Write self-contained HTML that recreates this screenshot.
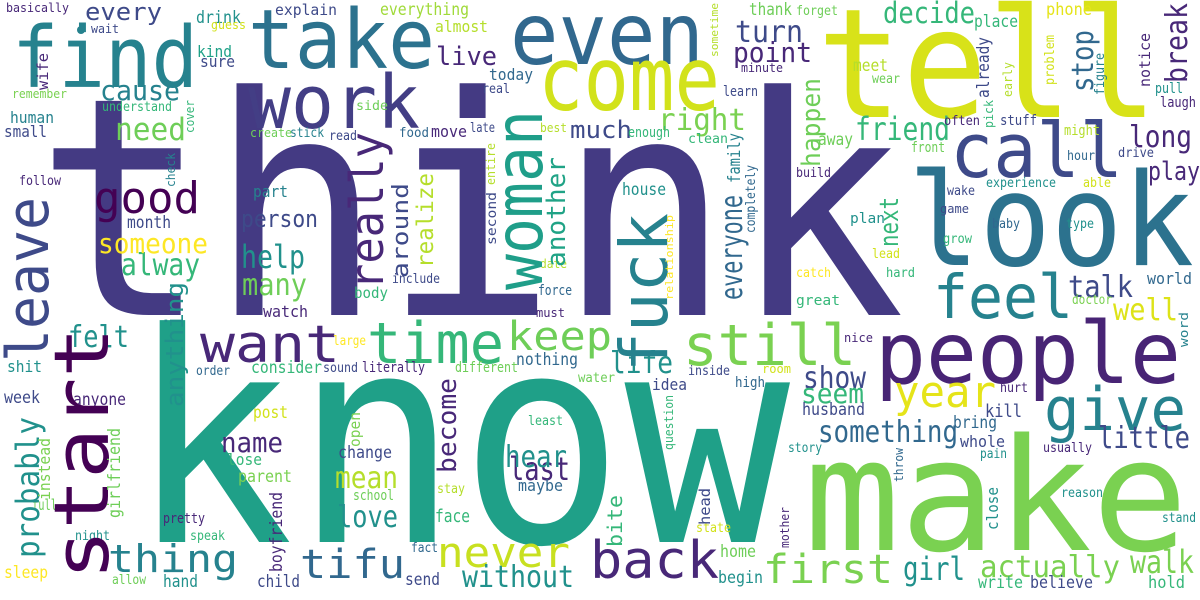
<!DOCTYPE html>
<html>
<head>
<meta charset="utf-8">
<style>
html,body{margin:0;padding:0;background:#fff;}
svg{display:block;}
text{font-family:"DejaVu Sans Mono","Liberation Mono",monospace;}
</style>
</head>
<body>
<svg id="cloud" width="1200" height="600" viewBox="0 0 1200 600" xmlns="http://www.w3.org/2000/svg">
<rect width="1200" height="600" fill="#ffffff"/>
<circle cx="81" cy="30" r="4" fill="#26828e"/>
</svg>
<script>
// horizontal words: text, x(left), baseline y, font size, colour, width
const hWords = [
["think",35,315,305,"#443a83",870],
["know",128,542,292,"#1fa088",662],
["make",804,550,156,"#7ad151",384],
["tell",817,117,152,"#d8e219",341],
["look",908,265,128,"#2c728e",286],
["people",875,383,86,"#482475",306],
["find",12,87,85,"#26828e",186],
["take",248,68,82,"#2c728e",187],
["even",510,64,86,"#31688e",194],
["come",538,110,88,"#d2e21b",182],
["work",248,128,74,"#433e85",172],
["call",950,177,76,"#3e4a89",173],
["feel",933,318,61,"#26828e",140],
["give",1044,430,60,"#26828e",142],
["still",683,365,57,"#7ad151",173],
["time",367,363,57,"#35b779",137],
["want",200,362,52,"#482878",140],
["back",590,578,52,"#482878",129],
["year",894,407,44,"#e5e419",102],
["good",94,213,44,"#440154",106],
["never",437,567,42,"#c8e020",133],
["first",763,583,40,"#7ad151",130],
["tifu",300,578,40,"#31688e",105],
["keep",507,350,40,"#6ece58",105],
["thing",108,572,38,"#26828e",130],
["friend",855,140,32,"#35b779",95],
["need",115,140,31,"#6ece58",71],
["girl",903,580,32,"#21918c",62],
["last",509,480,32,"#482878",61],
["walk",1130,573,32,"#7ad151",64],
["help",241,268,32,"#21918c",64],
["right",658,130,30,"#7ad151",88],
["turn",735,42,30,"#3e4a89",68],
["long",1129,147,30,"#482878",63],
["talk",1068,297,30,"#3e4a89",65],
["well",1113,320,30,"#dde318",65],
["life",610,373,30,"#21918c",63],
["show",803,388,30,"#3e4a89",63],
["something",818,442,30,"#31688e",140],
["little",1098,448,30,"#3e4a89",92],
["actually",980,577,30,"#7ad151",140],
["without",462,587,30,"#21918c",112],
["felt",68,347,30,"#21918c",61],
["mean",335,488,30,"#b5de2b",63],
["love",337,527,30,"#21918c",61],
["hear",505,467,30,"#21918c",62],
["alway",121,275,30,"#35b779",79],
["many",242,295,30,"#6ece58",65],
["decide",883,23,29,"#35b779",92],
["point",733,62,28,"#482878",79],
["seem",801,403,28,"#35b779",63],
["name",221,452,28,"#482878",62],
["cause",100,100,28,"#26828e",80],
["someone",98,253,28,"#fde725",110],
["live",436,65,26,"#482878",61],
["play",1148,180,26,"#482878",52],
["much",570,138,24,"#3e4a89",62],
["every",85,20,24,"#3e4a89",77],
["person",241,227,24,"#3e4a89",77],
["husband",802,415,17,"#3e4a89",63],
["kill",985,417,18,"#3e4a89",37],
["bring",953,428,17,"#31688e",44],
["whole",960,447,16,"#3e4a89",45],
["home",720,557,17,"#6ece58",36],
["begin",718,583,17,"#21918c",45],
["write",978,588,17,"#35b779",45],
["believe",1030,588,17,"#3e4a89",63],
["hold",1148,588,17,"#35b779",37],
["face",435,522,18,"#35b779",35],
["send",405,585,17,"#3e4a89",35],
["child",257,587,17,"#3e4a89",43],
["hand",163,587,17,"#21918c",35],
["sleep",4,578,17,"#fde725",44],
["nothing",516,365,17,"#31688e",62],
["consider",251,373,17,"#35b779",71],
["week",4,403,17,"#3e4a89",36],
["anyone",73,405,17,"#482878",53],
["post",253,418,17,"#d2e21b",35],
["change",338,458,17,"#3e4a89",54],
["parent",238,482,17,"#7ad151",54],
["idea",652,390,16,"#3e4a89",35],
["maybe",518,491,16,"#31688e",45],
["lose",227,465,16,"#35b779",35],
["month",127,228,17,"#3e4a89",44],
["part",253,197,16,"#26828e",35],
["human",10,123,16,"#26828e",44],
["small",4,137,16,"#3e4a89",43],
["drink",196,23,17,"#21918c",45],
["kind",197,57,16,"#1fa187",35],
["sure",200,67,16,"#3e4a89",35],
["everything",380,15,17,"#a0da39",89],
["almost",435,32,16,"#b5de2b",53],
["explain",275,15,15,"#3e4a89",62],
["today",489,80,16,"#31688e",44],
["move",431,137,16,"#482878",36],
["thank",749,15,17,"#6ece58",43],
["place",974,27,17,"#35b779",44],
["phone",1046,15,17,"#e5e419",46],
["meet",853,71,17,"#b5de2b",35],
["away",818,145,17,"#6ece58",35],
["house",622,195,17,"#21918c",44],
["world",1147,284,16,"#31688e",45],
["basically",6,12,12,"#482878",63],
["wait",91,33,12,"#3e4a89",28],
["guess",211,29,12,"#d2e21b",35],
["remember",12,98,12,"#7ad151",55],
["understand",102,111,13,"#35b779",70],
["create",250,137,12,"#6ece58",42],
["stick",290,137,13,"#26828e",34],
["read",329,140,13,"#3e4a89",28],
["food",399,137,13,"#31688e",30],
["late",470,132,13,"#3e4a89",25],
["best",540,132,12,"#b5de2b",27],
["side",356,110,13,"#6ece58",32],
["real",482,93,13,"#3e4a89",28],
["follow",19,185,13,"#482878",42],
["include",392,283,13,"#3e4a89",48],
["date",540,268,12,"#b5de2b",27],
["force",538,295,14,"#31688e",34],
["body",354,298,15,"#35b779",34],
["forget",796,15,13,"#6ece58",42],
["minute",741,72,12,"#482878",42],
["wear",872,83,13,"#6ece58",28],
["learn",723,96,14,"#3e4a89",35],
["often",944,125,13,"#482878",36],
["stuff",1000,125,14,"#3e4a89",37],
["enough",628,137,14,"#35b779",42],
["clean",688,143,13,"#35b779",40],
["front",911,152,14,"#6ece58",34],
["might",1064,135,14,"#b5de2b",36],
["hour",1067,160,13,"#31688e",28],
["drive",1118,157,13,"#3e4a89",36],
["pull",1155,93,14,"#21918c",28],
["laugh",1160,107,14,"#482878",36],
["build",796,177,13,"#482878",35],
["experience",986,187,13,"#21918c",70],
["able",1083,187,13,"#d2e21b",28],
["wake",947,195,13,"#3e4a89",28],
["game",940,213,12,"#3e4a89",29],
["plan",850,223,14,"#21918c",35],
["baby",992,228,13,"#31688e",28],
["type",1066,228,13,"#21918c",28],
["grow",943,243,13,"#35b779",29],
["lead",872,258,13,"#d2e21b",28],
["catch",796,277,13,"#fde725",35],
["hard",886,277,13,"#35b779",29],
["great",796,305,14,"#35b779",44],
["doctor",1072,304,13,"#7ad151",40],
["nice",844,342,12,"#482878",29],
["inside",688,375,13,"#3e4a89",42],
["room",762,373,12,"#d2e21b",29],
["high",735,387,14,"#31688e",30],
["hurt",1000,392,13,"#482878",28],
["usually",1043,452,13,"#482878",49],
["story",788,452,13,"#21918c",34],
["pain",980,458,13,"#21918c",27],
["reason",1061,497,13,"#21918c",42],
["stand",1162,522,13,"#21918c",34],
["state",696,532,13,"#d2e21b",35],
["watch",263,317,16,"#482878",45],
["must",536,317,12,"#482878",29],
["large",333,345,13,"#fde725",33],
["shit",7,372,16,"#21918c",35],
["sound",323,372,13,"#3e4a89",35],
["literally",362,372,14,"#482878",63],
["different",455,372,14,"#6ece58",63],
["order",196,375,13,"#31688e",34],
["water",578,382,13,"#6ece58",37],
["least",528,425,13,"#35b779",35],
["stay",437,493,13,"#b5de2b",28],
["school",353,500,14,"#6ece58",41],
["full",32,510,15,"#6ece58",25],
["pretty",163,523,14,"#482878",42],
["speak",190,540,13,"#35b779",35],
["night",75,540,13,"#21918c",35],
["fact",411,552,13,"#31688e",27],
["allow",112,584,13,"#6ece58",34]
];
// vertical words (read bottom-to-top): text, baseline x, bottom y, font size, colour, length
const vWords = [
["woman",542,290,66,"#1f9e89",180],
["fuck",667,372,66,"#26828e",159],
["start",108,580,76,"#440154",253],
["leave",48,362,58,"#3e4a89",165],
["really",383,290,46,"#482878",158],
["around",408,278,22,"#3e4a89",95],
["realize",433,268,23,"#b5de2b",95],
["another",565,267,26,"#20a386",110],
["second",496,245,13,"#3e4a89",53],
["entire",495,185,12,"#b5de2b",42],
["check",175,187,12,"#26828e",34],
["wife",48,90,15,"#482878",37],
["cover",194,133,12,"#35b779",33],
["sometime",718,57,11,"#b5de2b",54],
["break",1187,83,30,"#482878",80],
["stop",1093,92,30,"#31688e",62],
["notice",1150,87,15,"#482878",54],
["problem",1054,85,13,"#d2e21b",50],
["figure",1104,95,13,"#26828e",42],
["early",1012,97,12,"#b5de2b",35],
["already",989,98,17,"#3e4a89",61],
["pick",993,128,12,"#35b779",28],
["happen",820,167,26,"#6ece58",89],
["family",740,183,17,"#26828e",50],
["completely",755,233,13,"#31688e",68],
["everyone",742,300,30,"#31688e",105],
["relationship",673,300,11,"#fde725",85],
["next",898,247,26,"#35b779",50],
["word",1188,347,12,"#26828e",35],
["question",673,450,12,"#35b779",55],
["throw",903,482,12,"#31688e",34],
["close",998,530,16,"#21918c",43],
["head",710,525,15,"#3e4a89",37],
["bite",622,547,20,"#35b779",52],
["mother",789,548,12,"#482878",41],
["anything",183,407,24,"#21918c",125],
["probably",39,558,32,"#21918c",141],
["instead",50,500,16,"#7ad151",62],
["girlfriend",120,518,17,"#6ece58",90],
["open",360,447,15,"#7ad151",35],
["become",456,473,26,"#482878",95],
["boyfriend",282,572,17,"#482878",80]
];

const NS = "http://www.w3.org/2000/svg";
const svg = document.getElementById("cloud");

function addWord(w, vertical) {
  const t = document.createElementNS(NS, "text");
  t.textContent = w[0];
  t.setAttribute("font-size", w[3]);
  t.setAttribute("fill", w[4]);
  t.setAttribute("textLength", w[5]);
  t.setAttribute("lengthAdjust", "spacingAndGlyphs");
  if (vertical) {
    t.setAttribute("x", 0);
    t.setAttribute("y", 0);
    t.setAttribute("transform", "translate(" + w[1] + "," + w[2] + ") rotate(-90)");
  } else {
    t.setAttribute("x", w[1]);
    t.setAttribute("y", w[2]);
  }
  
  
  svg.appendChild(t);
}
hWords.forEach(function (w) { addWord(w, false); });
vWords.forEach(function (w) { addWord(w, true); });
</script>
</body>
</html>
